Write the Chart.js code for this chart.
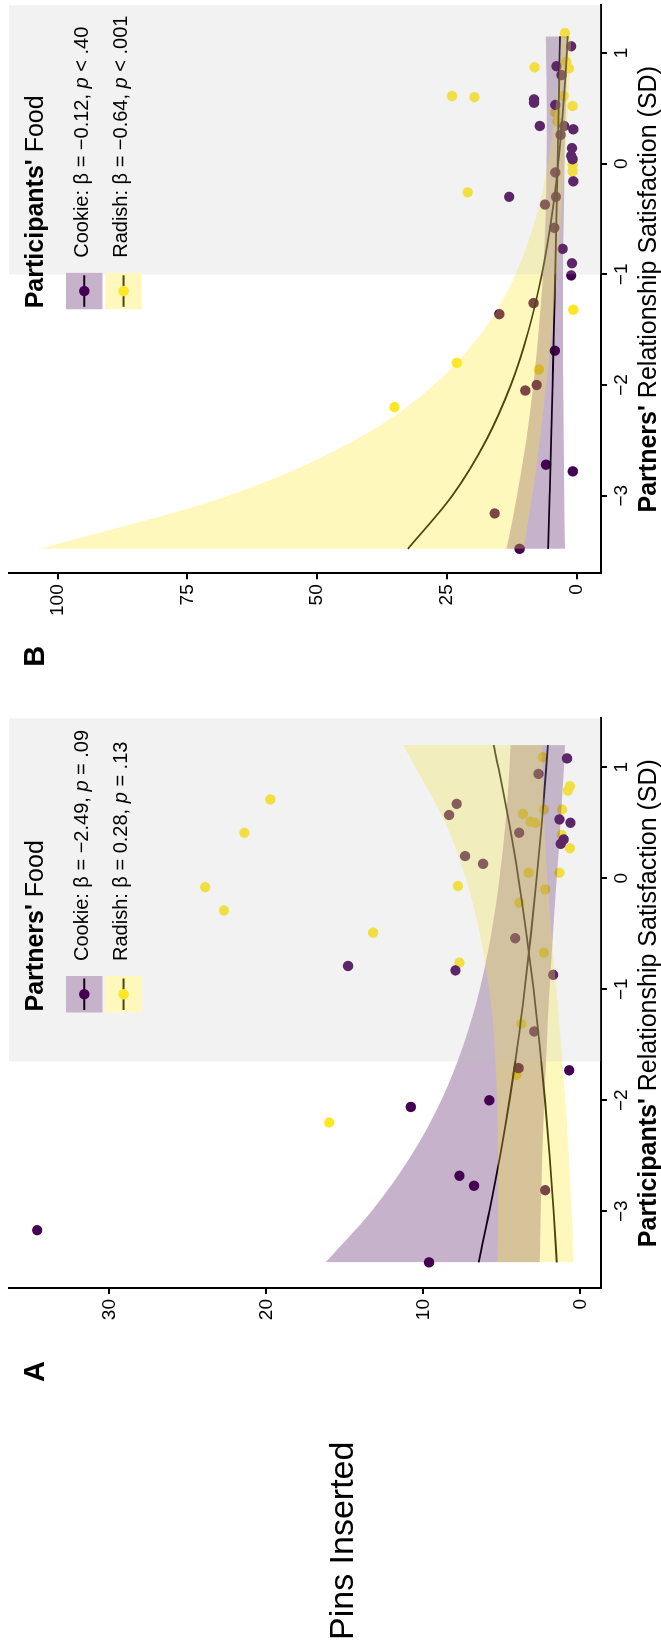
<!DOCTYPE html>
<html><head><meta charset="utf-8">
<script src="https://cdn.jsdelivr.net/npm/chart.js@4.4.1/dist/chart.umd.min.js"></script>
<style>
html,body{margin:0;padding:0;background:#fff;overflow:hidden;width:661px;height:1648px;}
#fig{position:absolute;left:0;top:0;width:1648px;height:661px;transform-origin:0 0;transform:translate(0px,1648px) rotate(-90deg);background:#fff;}
#fig canvas{position:absolute;top:0;}
</style></head><body>
<div id="fig">
<canvas id="cA" width="950" height="661" style="left:0;width:950px;height:661px"></canvas>
<canvas id="cB" width="698" height="661" style="left:950px;width:698px;height:661px"></canvas>
</div>
<script>
// ---------- tick labels ----------
const satTicks = [-3, -2, -1, 0, 1];
const pinsTicksA = [0, 10, 20, 30];
const pinsTicksB = [0, 25, 50, 75, 100];

// ---------- Panel A: Partners' Food (x = participants' satisfaction) ----------
const A_cookieSat  = [1.08, 0.94, 0.67, 0.57, 0.53, 0.50, 0.41, 0.35, 0.31, 0.20, 0.13, -0.54, -0.79, -0.83, -0.87, -1.38, -1.71, -1.73, -2.00, -2.06, -2.68, -2.77, -2.81, -3.17, -3.46];
const A_cookiePins = [0.85, 2.67, 7.88, 8.36, 1.33, 0.63, 3.90, 1.06, 1.25, 7.34, 6.20, 4.15, 14.8, 7.96, 1.73, 2.94, 3.94, 0.71, 5.80, 10.8, 7.70, 6.77, 2.24, 34.6, 9.64];
const A_radishSat  = [1.09, 0.83, 0.79, 0.71, 0.62, 0.62, 0.58, 0.51, 0.50, 0.41, 0.39, 0.27, 0.05, 0.05, -0.08, -0.07, -0.10, -0.22, -0.29, -0.49, -0.67, -0.76, -1.31, -1.77, -2.20];
const A_radishPins = [2.38, 0.66, 0.79, 19.75, 2.32, 1.17, 3.66, 3.18, 2.86, 21.4, 1.19, 0.66, 3.30, 1.33, 23.9, 7.80, 2.24, 3.88, 22.7, 13.2, 2.32, 7.70, 3.77, 4.07, 16.0];
const A_fitSat     = [-3.46, -3, -2.5, -2, -1.5, -1, -0.5, 0, 0.5, 1, 1.2];
const A_cookieFit  = [6.48, 5.79, 5.11, 4.51, 3.99, 3.54, 3.14, 2.78, 2.45, 2.17, 2.07];
const A_cookieHigh = [16.23, 13.30, 10.78, 8.86, 7.44, 6.40, 5.67, 5.14, 4.76, 4.51, 4.44];
const A_cookieLow  = [2.59, 2.52, 2.42, 2.30, 2.14, 1.96, 1.74, 1.50, 1.26, 1.04, 0.97];
const A_radishFit  = [1.50, 1.70, 1.96, 2.25, 2.59, 2.98, 3.43, 3.94, 4.54, 5.22, 5.52];
const A_radishHigh = [5.28, 5.23, 5.24, 5.29, 5.46, 5.80, 6.40, 7.30, 8.60, 10.5, 11.3];
const A_radishLow  = [0.43, 0.55, 0.73, 0.96, 1.23, 1.53, 1.84, 2.10, 2.30, 2.43, 2.46];
const A_sigFrom = -1.65;

// ---------- Panel B: Participants' Food (x = partners' satisfaction) ----------
const B_cookieSat  = [1.06, 0.88, 0.80, 0.58, 0.55, 0.53, 0.34, 0.34, 0.31, 0.26, 0.14, 0.07, 0.04, -0.08, -0.16, -0.30, -0.30, -0.37, -0.58, -0.77, -0.90, -1.01, -1.26, -1.36, -1.69, -2.00, -2.05, -2.72, -2.78, -3.16, -3.48];
const B_cookiePins = [1.06, 3.9, 2.9, 8.2, 8.2, 4.1, 7.1, 2.4, 0.65, 3.1, 0.9, 1.05, 0.8, 4.1, 0.65, 13.0, 4.0, 6.1, 4.3, 2.7, 0.9, 1.05, 8.3, 14.9, 4.2, 7.7, 9.9, 5.9, 0.75, 15.8, 11.0];
const B_radishSat  = [1.18, 0.92, 0.87, 0.86, 0.61, 0.60, 0.61, 0.52, 0.46, 0.38, -0.01, -0.07, -0.26, -1.32, -1.80, -1.86, -2.20];
const B_radishPins = [2.25, 2.0, 8.1, 1.5, 24.0, 19.7, 2.5, 0.8, 4.1, 3.7, 0.8, 0.8, 21.0, 0.65, 23.1, 7.3, 35.1];
const B_fitSat     = [-3.48, -3, -2.5, -2, -1.5, -1, -0.5, 0, 0.5, 1, 1.15];
const B_cookieFit  = [5.5, 5.2, 4.90, 4.63, 4.36, 4.11, 3.88, 3.66, 3.45, 3.26, 3.2];
const B_cookieHigh = [13.5, 11.46, 9.72, 8.35, 7.27, 6.49, 6.01, 5.78, 5.75, 5.88, 5.93];
const B_cookieLow  = [2.24, 2.36, 2.47, 2.57, 2.62, 2.60, 2.50, 2.32, 2.07, 1.81, 1.73];
const B_radishFit  = [32.5, 23.96, 17.43, 12.68, 9.22, 6.71, 4.88, 3.55, 2.59, 1.88, 1.71];
const B_radishHigh = [103.4, 67.1, 42.8, 27.5, 17.85, 11.75, 7.92, 5.52, 4.05, 3.09, 2.87];
const B_radishLow  = [10.2, 8.56, 7.09, 5.84, 4.76, 3.83, 3.01, 2.28, 1.66, 1.14, 1.02];
const B_sigFrom = -1.0;

// ---------- texts ----------
const yTitle = 'Pins Inserted';
const A_xTitle = [["Participants'", 'bold'], [' Relationship Satisfaction (SD)', '']];
const B_xTitle = [["Partners'", 'bold'], [' Relationship Satisfaction (SD)', '']];
const A_legTitle = [["Partners'", 'bold'], [' Food', '']];
const B_legTitle = [["Participants'", 'bold'], [' Food', '']];
const A_legLabels = [
  [['Cookie: \u03B2 = \u22122.49, ', ''], ['p', 'italic'], [' = .09', '']],
  [['Radish: \u03B2 = 0.28, ', ''], ['p', 'italic'], [' = .13', '']]
];
const B_legLabels = [
  [['Cookie: \u03B2 = \u22120.12, ', ''], ['p', 'italic'], [' < .40', '']],
  [['Radish: \u03B2 = \u22120.64, ', ''], ['p', 'italic'], [' < .001', '']]
];

// ---------- styling ----------
const FONT = '"Liberation Sans", Arial, Helvetica, sans-serif';
const PURPLE = '#440154', YELLOW = '#FDE725';
const PURPLE_BAND = 'rgba(68,1,84,0.3)', YELLOW_BAND = 'rgba(253,231,37,0.3)';
const SIG_FILL = 'rgba(190,190,190,0.2)';

function pts(xs, ys) { return xs.map((x, i) => ({ x: x, y: ys[i] })); }
function fmt(v) { return v < 0 ? '\u2212' + Math.abs(v) : String(v); }

function drawParts(ctx, parts, x, y, size, align) {
  ctx.save();
  ctx.textBaseline = 'alphabetic';
  ctx.textAlign = 'left';
  ctx.fillStyle = '#000';
  const fonts = parts.map(p => ((p[1] ? p[1] + ' ' : '') + size + 'px ' + FONT));
  let total = 0;
  parts.forEach((p, i) => { ctx.font = fonts[i]; total += ctx.measureText(p[0]).width; });
  let cx = align === 'center' ? x - total / 2 : x;
  parts.forEach((p, i) => { ctx.font = fonts[i]; ctx.fillText(p[0], cx, y); cx += ctx.measureText(p[0]).width; });
  ctx.restore();
}

function makePanel(o) {
  const curve = (data, extra) => Object.assign({
    data: data, pointRadius: 0, pointHoverRadius: 0, cubicInterpolationMode: 'monotone', fill: false
  }, extra);
  const overlay = {
    id: 'overlay' + o.tag,
    afterDatasetsDraw(chart) {
      const ctx = chart.ctx, a = chart.chartArea, x = chart.scales.x;
      const x0 = x.getPixelForValue(o.sigFrom);
      ctx.save();
      ctx.fillStyle = SIG_FILL;
      ctx.fillRect(x0, a.top, a.right - x0, a.bottom - a.top);
      ctx.restore();
    },
    afterDraw(chart) {
      const ctx = chart.ctx, a = chart.chartArea;
      // axis title
      drawParts(ctx, o.xTitle, (a.left + a.right) / 2, 656, 25, 'center');
      // extra texts (panel tag, y title)
      o.texts.forEach(t => drawParts(ctx, t.parts, t.x, t.y, t.size, 'left'));
      // legend
      const lx = o.legendX;
      drawParts(ctx, o.legTitle, lx + 1, 42.5, 25, 'left');
      const keyTops = [66, 105.3];
      const cols = [PURPLE, YELLOW], bands = [PURPLE_BAND, YELLOW_BAND];
      keyTops.forEach((ky, i) => {
        const k = 36.5, cy = ky + k / 2;
        ctx.save();
        ctx.fillStyle = '#fff';
        ctx.fillRect(lx, ky, k, k);
        ctx.strokeStyle = '#000'; ctx.lineWidth = 2;
        ctx.beginPath(); ctx.moveTo(lx + 2.5, cy); ctx.lineTo(lx + k - 2.5, cy); ctx.stroke();
        ctx.fillStyle = cols[i];
        ctx.beginPath(); ctx.arc(lx + k / 2, cy, 5.2, 0, Math.PI * 2); ctx.fill();
        ctx.fillStyle = bands[i];
        ctx.fillRect(lx, ky, k, k);
        ctx.restore();
        drawParts(ctx, o.legLabels[i], lx + 51.5, ky + 21.8, 20, 'left');
      });
    }
  };
  return new Chart(document.getElementById(o.canvas), {
    type: 'line',
    data: {
      datasets: [
        { data: pts(o.cookieSat, o.cookiePins), showLine: false, pointRadius: 5.2, pointHoverRadius: 5.2, pointBorderWidth: 0, pointBackgroundColor: PURPLE, order: 30 },
        { data: pts(o.radishSat, o.radishPins), showLine: false, pointRadius: 5.2, pointHoverRadius: 5.2, pointBorderWidth: 0, pointBackgroundColor: YELLOW, order: 30 },
        curve(pts(o.fitSat, o.cookieFit), { borderColor: '#000', borderWidth: 1.8, order: 20 }),
        curve(pts(o.fitSat, o.radishFit), { borderColor: '#000', borderWidth: 1.8, order: 20 }),
        curve(pts(o.fitSat, o.cookieHigh), { borderColor: 'rgba(0,0,0,0)', borderWidth: 0, fill: '+1', backgroundColor: PURPLE_BAND, order: 10 }),
        curve(pts(o.fitSat, o.cookieLow), { borderColor: 'rgba(0,0,0,0)', borderWidth: 0, order: 10 }),
        curve(pts(o.fitSat, o.radishHigh), { borderColor: 'rgba(0,0,0,0)', borderWidth: 0, fill: '+1', backgroundColor: YELLOW_BAND, order: 5 }),
        curve(pts(o.fitSat, o.radishLow), { borderColor: 'rgba(0,0,0,0)', borderWidth: 0, order: 5 })
      ]
    },
    options: {
      responsive: false,
      animation: false,
      devicePixelRatio: 1,
      events: [],
      layout: { padding: { left: 0, top: 9, right: o.padRight, bottom: 0 } },
      plugins: { legend: { display: false }, tooltip: { enabled: false } },
      scales: {
        x: {
          type: 'linear', position: 'bottom', min: o.satMin, max: o.satMax,
          afterBuildTicks: s => { s.ticks = satTicks.map(v => ({ value: v })); },
          afterFit: s => { s.height = 60; s.paddingLeft = 0; s.paddingRight = 0; },
          ticks: { callback: v => fmt(v), font: { family: FONT, size: 19 }, color: '#000', padding: 3, maxRotation: 0, autoSkip: false },
          grid: { display: true, drawOnChartArea: false, drawTicks: true, tickLength: 6, color: '#000', lineWidth: 2 },
          border: { display: true, color: '#000', width: 2 }
        },
        y: {
          type: 'linear', position: 'left', min: o.pinsMin, max: o.pinsMax,
          afterBuildTicks: s => { s.ticks = o.pinsTicks.map(v => ({ value: v })); },
          afterFit: s => { s.width = o.yWidth; s.paddingTop = 0; s.paddingBottom = 0; },
          ticks: { callback: v => fmt(v), font: { family: FONT, size: 19 }, color: '#000', padding: 5, autoSkip: false },
          grid: { display: true, drawOnChartArea: false, drawTicks: true, tickLength: 6, color: '#000', lineWidth: 2 },
          border: { display: true, color: '#000', width: 2 }
        }
      }
    },
    plugins: [overlay]
  });
}

makePanel({
  tag: 'A', canvas: 'cA', yWidth: 360, padRight: 20.3,
  satMin: -3.691, satMax: 1.441, pinsMin: -1.318, pinsMax: 36.39, pinsTicks: pinsTicksA,
  cookieSat: A_cookieSat, cookiePins: A_cookiePins, radishSat: A_radishSat, radishPins: A_radishPins,
  fitSat: A_fitSat, cookieFit: A_cookieFit, cookieHigh: A_cookieHigh, cookieLow: A_cookieLow,
  radishFit: A_radishFit, radishHigh: A_radishHigh, radishLow: A_radishLow,
  sigFrom: A_sigFrom, xTitle: A_xTitle, legTitle: A_legTitle, legLabels: A_legLabels, legendX: 635.5,
  texts: [
    { parts: [[yTitle, '']], x: 8, y: 353, size: 34 },
    { parts: [['A', 'bold']], x: 266, y: 43.5, size: 29 }
  ]
});

makePanel({
  tag: 'B', canvas: 'cB', yWidth: 124.7, padRight: 2,
  satMin: -3.701, satMax: 1.431, pinsMin: -4.70, pinsMax: 109.35, pinsTicks: pinsTicksB,
  cookieSat: B_cookieSat, cookiePins: B_cookiePins, radishSat: B_radishSat, radishPins: B_radishPins,
  fitSat: B_fitSat, cookieFit: B_cookieFit, cookieHigh: B_cookieHigh, cookieLow: B_cookieLow,
  radishFit: B_radishFit, radishHigh: B_radishHigh, radishLow: B_radishLow,
  sigFrom: B_sigFrom, xTitle: B_xTitle, legTitle: B_legTitle, legLabels: B_legLabels, legendX: 388.7,
  texts: [
    { parts: [['B', 'bold']], x: 31.3, y: 43.5, size: 29 }
  ]
});
</script>
</body></html>
